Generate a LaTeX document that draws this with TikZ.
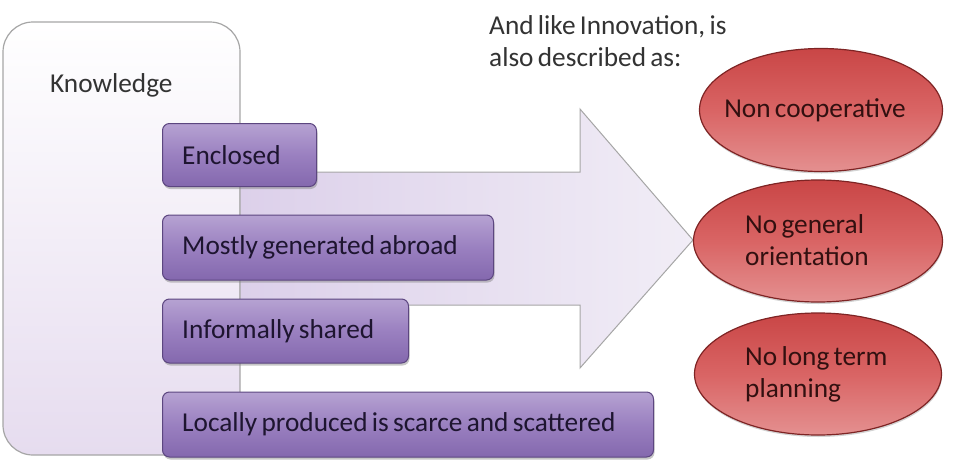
\documentclass[tikz,border=0pt]{standalone}
\usepackage{fontspec}
\setmainfont{Carlito}[WordSpace=0.7]
\usetikzlibrary{shapes.geometric,shadows}
\definecolor{boxborder}{HTML}{A6A6A6}
\definecolor{boxbot}{HTML}{E6DCEF}
\definecolor{arrowl}{HTML}{DCD0EA}
\definecolor{arrowr}{HTML}{F1EDF6}
\definecolor{bartop}{HTML}{B6A2D2}
\definecolor{barmid}{HTML}{9A80C0}
\definecolor{barbot}{HTML}{8468AE}
\definecolor{barborder}{HTML}{5C4680}
\definecolor{bartext}{HTML}{1E1530}
\definecolor{elltop}{HTML}{C94646}
\definecolor{ellmid}{HTML}{D96464}
\definecolor{ellbot}{HTML}{E49090}
\definecolor{ellborder}{HTML}{7E2424}
\definecolor{elltext}{HTML}{321010}
\definecolor{plaintext}{HTML}{333333}
\begin{document}
\begin{tikzpicture}[x=1pt,y=-1pt,
  bigfont/.style={font=\fontsize{27.3}{32}\selectfont},
  bar/.style={draw=barborder, line width=1pt, rounded corners=7pt,
    top color=bartop, bottom color=barbot, middle color=barmid,
    anchor=west, inner sep=0pt,
    drop shadow={shadow xshift=1pt, shadow yshift=-2.5pt, opacity=0.45}},
  bartxt/.style={bigfont, text=bartext, inner sep=0pt, anchor=west},
  ell/.style={ellipse, draw=ellborder, line width=1.2pt,
    top color=elltop, bottom color=ellbot, middle color=ellmid,
    inner sep=0pt,
    drop shadow={shadow xshift=0.5pt, shadow yshift=-2pt, opacity=0.35}},
  etext/.style={bigfont, text=elltext, inner sep=0pt, align=left},
  ptext/.style={bigfont, text=plaintext, inner sep=0pt, align=left}]
\useasboundingbox (0,0) rectangle (956,474);
% knowledge container
\path[draw=boxborder, line width=1.2pt, rounded corners=30pt,
  top color=white, bottom color=boxbot] (3,22) rectangle (240,455);
\node[ptext, anchor=base west] (know) at (50,92) {Knowledge};
% big arrow
\path[draw=boxborder, line width=1pt, left color=arrowl, right color=arrowr]
  (240,172) -- (580,172) -- (580,109) -- (693,240) -- (580,368)
  -- (580,305) -- (240,305) -- cycle;
% bars
\node[bar, minimum width=154pt, minimum height=63pt] (b1) at (162,155) {};
\node[bartxt] (b1t) at ([xshift=20pt]b1.west) {Enclosed};
\node[bar, minimum width=331pt, minimum height=65pt] (b2) at (162,247.5) {};
\node[bartxt] (b2t) at ([xshift=20pt]b2.west) {Mostly generated abroad};
\node[bar, minimum width=246pt, minimum height=64pt] (b3) at (162,331) {};
\node[bartxt] (b3t) at ([xshift=20pt]b3.west) {Informally shared};
\node[bar, minimum width=491pt, minimum height=65pt] (b4) at (162,424.5) {};
\node[bartxt] (b4t) at ([xshift=20pt]b4.west) {Locally produced is scarce and scattered};
% heading
\node[ptext, anchor=north west] (head) at (489,15) {And like Innovation, is\\also described as:};
% ellipses
\node[ell, minimum width=243pt, minimum height=123pt] (e1) at (821,110) {};
\node[etext] (t1) at (815,110) {Non cooperative};
\node[ell, minimum width=249pt, minimum height=122pt] (e2) at (818,241) {};
\node[etext, anchor=west] (t2) at (745,240) {No general\\orientation};
\node[ell, minimum width=247pt, minimum height=122pt] (e3) at (818,374) {};
\node[etext, anchor=west] (t3) at (745,374) {No long term\\planning};
\end{tikzpicture}
\end{document}
